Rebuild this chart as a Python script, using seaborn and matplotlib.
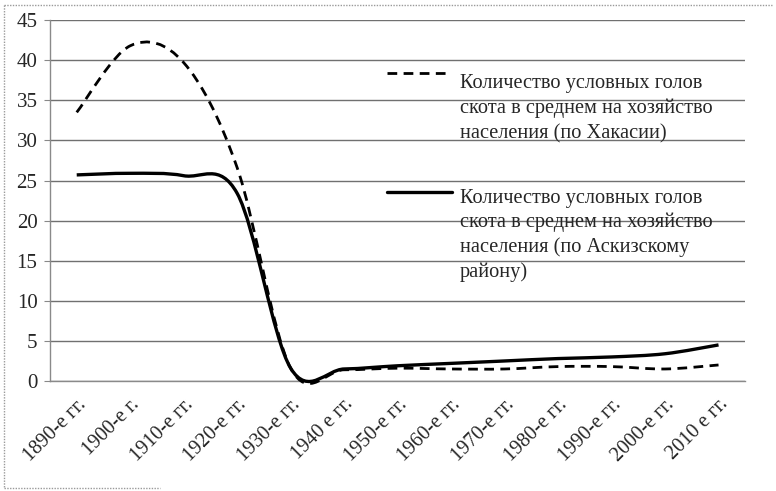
import matplotlib
matplotlib.use("Agg")
import matplotlib.pyplot as plt
from matplotlib.path import Path
from matplotlib.patches import PathPatch
from matplotlib.lines import Line2D
import seaborn as sns
import numpy as np

# decades on the category axis
decades = ["1890-е гг.", "1900-е г.", "1910-е гг.", "1920-е гг.", "1930-е гг.",
           "1940 е гг.", "1950-е гг.", "1960-е гг.", "1970-е гг.", "1980-е гг.",
           "1990-е гг.", "2000-е гг.", "2010 е гг."]
# average conventional head of livestock per household
khakasia = [33.5, 41.8, 39.7, 26.6, 1.6, 1.4, 1.6, 1.5, 1.5, 1.8, 1.8, 1.5, 2.0]
askiz = [25.7, 25.9, 25.6, 23.4, 1.6, 1.5, 1.9, 2.2, 2.5, 2.8, 3.0, 3.4, 4.5]

label_khakasia = ["Количество условных голов", "скота в среднем на хозяйство",
                  "населения (по Хакасии)"]
label_askiz = ["Количество условных голов", "скота в среднем на хозяйство",
               "населения (по Аскизскому", "району)"]

sns.set_style("white")
plt.rcParams["font.family"] = ["Liberation Serif", "DejaVu Serif"]


def smooth_path(values):
    """Excel-like smoothed line: cubic bezier through every point"""
    pts = np.column_stack([np.arange(len(values), dtype=float),
                           np.asarray(values, dtype=float)])
    padded = np.vstack([pts[0], pts, pts[-1]])
    verts = [pts[0]]
    codes = [Path.MOVETO]
    for i in range(len(pts) - 1):
        p0, p1, p2, p3 = padded[i], padded[i + 1], padded[i + 2], padded[i + 3]
        verts += [p1 + (p2 - p0) / 6, p2 - (p3 - p1) / 6, p2]
        codes += [Path.CURVE4] * 3
    return Path(verts, codes)


fig = plt.figure(figsize=(7.76, 4.91), dpi=100)
ax = fig.add_axes([0.0644, 0.224, 0.896, 0.735])

dash = (0, (3.5, 2.3))
ax.add_patch(PathPatch(smooth_path(khakasia), fill=False, color="black",
                       lw=2.0, ls=dash, clip_on=False, zorder=3))
ax.add_patch(PathPatch(smooth_path(askiz), fill=False, color="black",
                       lw=2.4, clip_on=False, zorder=4))

ax.set_xlim(-0.5, len(decades) - 0.5)
ax.set_ylim(0, 45)
ax.set_yticks(range(0, 46, 5))
ax.set_xticks(range(len(decades)))
ax.set_xticklabels(decades, rotation=45, ha="right", rotation_mode="anchor")
ax.set_xticks(np.arange(-0.5, len(decades), 1), minor=True)
ax.tick_params(axis="x", which="major", length=0, pad=10, labelsize=14.5)
ax.tick_params(axis="x", which="minor", length=3, color="#888888", direction="out")
ax.tick_params(axis="y", length=4, color="#888888", pad=5, labelsize=15, left=True)

ax.yaxis.grid(True, color="#707070", lw=1.0)
ax.set_axisbelow(True)
for side in ["top", "right"]:
    ax.spines[side].set_visible(False)
for side in ["left", "bottom"]:
    ax.spines[side].set_color("#8a8a8a")
    ax.spines[side].set_linewidth(1.0)

# legend drawn by hand, handle next to the first text line as in the source
W, H = 776, 491
def fx(px):
    return px / W
def fy(py):
    return 1 - py / H

fig.add_artist(Line2D([fx(387), fx(449)], [fy(73), fy(73)], color="black",
                      lw=2.0, ls=dash))
fig.add_artist(Line2D([fx(387), fx(452)], [fy(192), fy(192)], color="black",
                      lw=2.4))
for i, line in enumerate(label_khakasia):
    fig.text(fx(460), fy(88 + 25 * i), line, fontsize=14.7, va="baseline")
for i, line in enumerate(label_askiz):
    fig.text(fx(460), fy(203 + 24.5 * i), line, fontsize=14.7, va="baseline")

# faint frame of the scanned chart area
frame = dict(color="#9a9a9a", lw=1.0, ls=(0, (1, 1)))
fig.add_artist(Line2D([fx(4), fx(772)], [fy(5), fy(5)], **frame))
fig.add_artist(Line2D([fx(4), fx(4)], [fy(5), fy(488)], **frame))
fig.add_artist(Line2D([fx(4), fx(160)], [fy(488), fy(488)], **frame))

fig.savefig("out.png", dpi=100)
